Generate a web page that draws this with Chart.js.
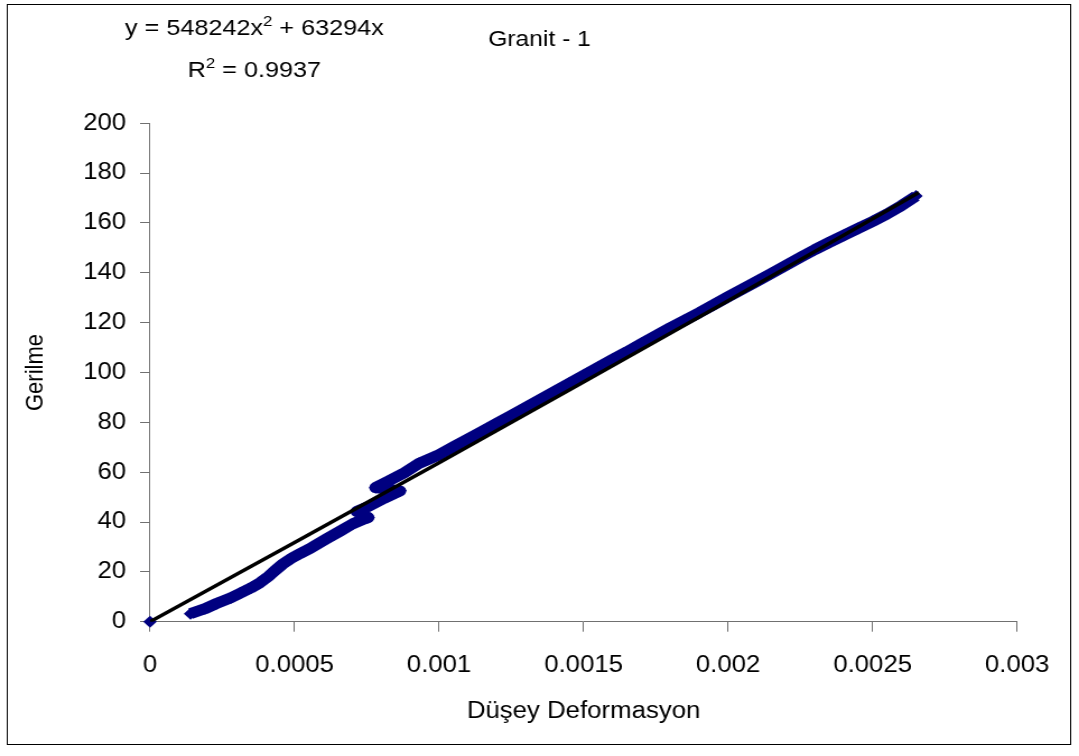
<!DOCTYPE html>
<html>
<head>
<meta charset="utf-8">
<title>Granit - 1</title>
<script src="https://cdn.jsdelivr.net/npm/chart.js@4/dist/chart.umd.min.js"></script>
<style>
  html, body { margin: 0; padding: 0; background: #fff; overflow: hidden; }
</style>
</head>
<body>
<!-- the original chart is a bit stretched sideways, so the canvas is too -->
<canvas id="grafico" width="963" height="756" style="display:block;width:1079px;height:756px;"></canvas>
<script>
// ====== dati ======
var deformasyon = [
  0,
  0.00014, 0.00019, 0.00023, 0.00028, 0.00031, 0.00035, 0.00038, 0.00041, 0.00043,
  0.00046, 0.00049, 0.00052, 0.00056, 0.00061, 0.00066, 0.0007, 0.00074, 0.000755,
  0.000715, 0.00076, 0.00081, 0.000865,
  0.00078, 0.00082, 0.00088,
  0.00093, 0.001, 0.00105, 0.0011, 0.00115, 0.0012, 0.00125, 0.0013, 0.00135,
  0.0014, 0.00145, 0.0015, 0.00155, 0.0016, 0.00165, 0.0017, 0.00175, 0.0018,
  0.00185, 0.0019, 0.00195, 0.002, 0.00205, 0.0021, 0.00215, 0.0022, 0.00225,
  0.0023, 0.00235, 0.0024, 0.00245, 0.0025, 0.00255, 0.0026, 0.00265
];
var gerilme = [
  0,
  3.2, 5.2, 7.3, 9.6, 11.3, 13.6, 15.6, 18.2, 20.3,
  23.2, 25.5, 27.4, 29.8, 33.2, 36.5, 39.2, 41.2, 41.8,
  44.2, 46.5, 49.5, 52.5,
  53.8, 56.2, 59.8,
  63.5, 67, 70.2, 73.3, 76.5, 79.6, 82.8, 86, 89.2,
  92.4, 95.6, 98.8, 102, 105.2, 108.3, 111.6, 114.8, 118,
  121, 124, 127.2, 130.4, 133.5, 136.6, 139.8, 143, 146.2,
  149.3, 152.2, 155, 157.8, 160.6, 163.6, 167, 170.8
];
// trend line (polinomiale)
var trendX = [0, 0.0005, 0.001, 0.0015, 0.002, 0.0025, 0.00266];
var trendY = [0, 31.8, 63.8, 96.2, 128.8, 161.7, 172.2];

var xTickLabels = ['0', '0.0005', '0.001', '0.0015', '0.002', '0.0025', '0.003'];
var yTickLabels = ['0', '20', '40', '60', '80', '100', '120', '140', '160', '180', '200'];

var titolo = 'Granit - 1';
var titoloX = 'Düşey Deformasyon';
var titoloY = 'Gerilme';
var denklem = ['y = 548242x', '2', ' + 63294x'];
var erre = ['R', '2', ' = 0.9937'];

var blu = '#000080';
var grigio = '#707070';
var fontName = '"Liberation Sans", Arial, sans-serif';

// ====== punti per chart.js ======
function toPoints(xs, ys) {
  var out = [];
  for (var i = 0; i < xs.length; i++) {
    out.push({ x: xs[i], y: ys[i] });
  }
  return out;
}

// scrive una riga con l'esponente, centrata su cx
function rigaConApice(ctx, parti, cx, baseY) {
  var big = '22.5px ' + fontName;
  var small = '15px ' + fontName;
  ctx.font = big;
  var w0 = ctx.measureText(parti[0]).width;
  var w2 = ctx.measureText(parti[2]).width;
  ctx.font = small;
  var w1 = ctx.measureText(parti[1]).width;
  var x = cx - (w0 + w1 + w2) / 2;
  ctx.textAlign = 'left';
  ctx.textBaseline = 'alphabetic';
  ctx.font = big;
  ctx.fillText(parti[0], x, baseY);
  ctx.font = small;
  ctx.fillText(parti[1], x + w0, baseY - 9);
  ctx.font = big;
  ctx.fillText(parti[2], x + w0 + w1, baseY);
}

var cornice = {
  id: 'cornice',
  beforeDraw: function(chart) {
    var ctx = chart.ctx;
    ctx.save();
    ctx.fillStyle = '#fff';
    ctx.fillRect(0, 0, chart.width, chart.height);
    ctx.restore();
  },
  afterDraw: function(chart) {
    var ctx = chart.ctx;
    ctx.save();
    // bordo esterno
    ctx.strokeStyle = '#000';
    ctx.lineWidth = 1;
    ctx.strokeRect(6.5, 4.5, 949, 740);
    // equazione della trend line
    ctx.fillStyle = '#000';
    rigaConApice(ctx, denklem, 227, 35);
    rigaConApice(ctx, erre, 227, 77);
    ctx.restore();
  }
};

var ctx = document.getElementById('grafico').getContext('2d');
var chart = new Chart(ctx, {
  type: 'scatter',
  data: {
    datasets: [
      {
        // trend line sopra ai punti
        label: 'trend',
        data: toPoints(trendX, trendY),
        showLine: true,
        borderColor: '#000',
        borderWidth: 3.5,
        pointRadius: 0,
        order: 0
      },
      {
        label: titolo,
        data: toPoints(deformasyon, gerilme),
        showLine: true,
        clip: false,
        borderColor: blu,
        borderWidth: 11,
        borderJoinStyle: 'round',
        segment: {
          // il punto in zero sta da solo
          borderColor: function(c) { return c.p0DataIndex === 0 ? 'rgba(0,0,0,0)' : undefined; }
        },
        pointStyle: 'rectRot',
        pointRadius: 6,
        pointBackgroundColor: blu,
        pointBorderColor: blu,
        pointBorderWidth: 0,
        order: 1
      }
    ]
  },
  options: {
    responsive: false,
    animation: false,
    events: [],
    layout: { padding: 0 },
    plugins: {
      legend: { display: false },
      tooltip: { enabled: false },
      title: {
        display: true,
        text: titolo,
        color: '#000',
        font: { family: fontName, size: 22, weight: 'normal' },
        padding: { top: 27, bottom: 69.9 }
      }
    },
    scales: {
      x: {
        type: 'linear',
        min: 0,
        max: 0.003,
        ticks: {
          stepSize: 0.0005,
          color: '#000',
          padding: 20,
          maxRotation: 0,
          font: { family: fontName, size: 23 },
          callback: function(v, i) { return xTickLabels[i]; }
        },
        grid: { drawOnChartArea: false, drawTicks: true, tickLength: 10, color: grigio },
        border: { color: grigio, width: 1 },
        title: {
          display: true,
          text: titoloX,
          color: '#000',
          font: { family: fontName, size: 23 },
          padding: { top: 0, bottom: 30.5 }
        },
        afterFit: function(s) {
          // spazio fisso sotto e a destra del grafico
          s.height = 134.3;
          s.paddingLeft = 0;
          s.paddingRight = 55.2;
        }
      },
      y: {
        type: 'linear',
        min: 0,
        max: 200,
        ticks: {
          stepSize: 20,
          color: '#000',
          padding: 12.5,
          font: { family: fontName, size: 23 },
          callback: function(v, i) { return yTickLabels[i]; }
        },
        grid: { drawOnChartArea: false, drawTicks: true, tickLength: 8.9, color: grigio },
        border: { color: grigio, width: 1 },
        title: {
          display: true,
          text: titoloY,
          color: '#000',
          font: { family: fontName, size: 22 },
          padding: { top: 18.3, bottom: 0 }
        },
        afterFit: function(s) {
          s.width = 133.9;
        }
      }
    }
  },
  plugins: [cornice]
});
</script>
</body>
</html>
